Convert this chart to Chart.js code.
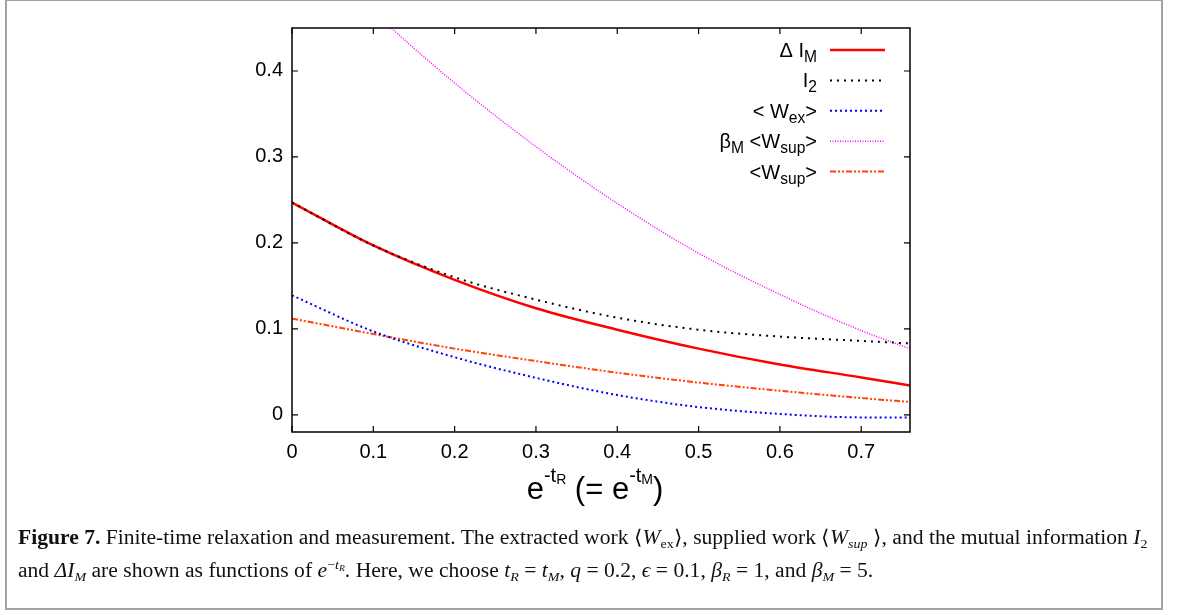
<!DOCTYPE html>
<html>
<head>
<meta charset="utf-8">
<script src="https://cdn.jsdelivr.net/npm/chart.js@4"></script>
<style>
  body { margin: 0; background: #fff; }
  #wrap { position: relative; width: 1179px; height: 615px; overflow: hidden; }
  #grafico { position: absolute; left: 0; top: 0; }
  #marco { position: absolute; left: 5px; top: 0; width: 1158px; height: 610px; box-sizing: border-box; border: 2px solid #a3a3a3; border-top-width: 1px; }
  #leyenda { position: absolute; left: 18px; top: 521px; font-family: "Liberation Serif", serif; font-size: 20px; line-height: 33px; white-space: nowrap; color: #111; transform-origin: 0 0; }
  #leyenda i { font-style: italic; }
  #leyenda sub { font-size: 13px; line-height: 0; vertical-align: -4px; }
  #leyenda sup { font-size: 13px; line-height: 0; vertical-align: 8px; }
</style>
</head>
<body>
<div id="wrap">
  <canvas id="grafico" width="1179" height="615"></canvas>
  <div id="marco"></div>
  <div id="leyenda">
    <div id="linea1"><b>Figure 7.</b> Finite-time relaxation and measurement. The extracted work ⟨<i>W</i><sub>ex</sub>⟩, supplied work ⟨<i>W<sub>sup</sub></i> ⟩, and the mutual information <i>I</i><sub>2</sub></div>
    <div>and <i>ΔI<sub>M</sub></i> are shown as functions of <i>e</i><sup>−<i>t<sub style="font-size:9px;vertical-align:-2px">R</sub></i></sup>. Here, we choose <i>t<sub>R</sub></i> = <i>t<sub>M</sub></i>, <i>q</i> = 0.2, <i>ϵ</i> = 0.1, <i>β<sub>R</sub></i> = 1, and <i>β<sub>M</sub></i> = 5.</div>
  </div>
</div>
<script>
// valores
const xVals = [0, 0.1, 0.2, 0.3, 0.4, 0.5, 0.6, 0.7, 0.76];
const deltaIM = [0.247, 0.197, 0.157, 0.124, 0.099, 0.077, 0.0585, 0.0435, 0.034];
const i2 = [0.247, 0.197, 0.160, 0.134, 0.113, 0.099, 0.091, 0.086, 0.083];
const wex = [0.139, 0.097, 0.067, 0.043, 0.023, 0.009, 0.001, -0.003, -0.003];
const betaWsup = [0.56, 0.469, 0.386, 0.312, 0.246, 0.188, 0.140, 0.098, 0.077];
const wsup = [0.112, 0.094, 0.077, 0.0625, 0.049, 0.0375, 0.028, 0.0195, 0.015];

const xTicks = [0, 0.1, 0.2, 0.3, 0.4, 0.5, 0.6, 0.7];
const yTicks = [0, 0.1, 0.2, 0.3, 0.4];
const nombres = ['Δ I_{M}', 'I_{2}', '< W_{ex}>', 'β_{M} <W_{sup}>', '<W_{sup}>'];

const FUENTE = '"Liberation Sans", Arial, sans-serif';

function puntos(ys) {
    return xVals.map((x, i) => ({ x: x, y: ys[i] }));
}

// texto con subindices tipo gnuplot
function partes(str, size) {
    const out = [];
    let buf = '';
    let i = 0;
    while (i < str.length) {
        const c = str[i];
        if ((c === '_' || c === '^') && str[i + 1] === '{') {
            if (buf) out.push({ t: buf, size: size, dy: 0 });
            buf = '';
            const fin = str.indexOf('}', i);
            out.push({ t: str.slice(i + 2, fin), size: size * 0.78, dy: c === '_' ? 5 : -9 });
            i = fin + 1;
        } else {
            buf += c;
            i++;
        }
    }
    if (buf) out.push({ t: buf, size: size, dy: 0 });
    return out;
}

function dibujarRico(ctx, ps, x, y, align) {
    let total = 0;
    ps.forEach(p => {
        ctx.font = p.size + 'px ' + FUENTE;
        p.w = ctx.measureText(p.t).width;
        total += p.w;
    });
    let cx = x;
    if (align === 'right') cx = x - total;
    if (align === 'center') cx = x - total / 2;
    ctx.textAlign = 'left';
    ctx.textBaseline = 'alphabetic';
    ps.forEach(p => {
        ctx.font = p.size + 'px ' + FUENTE;
        ctx.fillText(p.t, cx, y + p.dy);
        cx += p.w;
    });
}

const marcoPlugin = {
    id: 'marco',
    afterDatasetsDraw(chart) {
        const ctx = chart.ctx;
        const a = chart.chartArea;
        const xs = chart.scales.x, ys = chart.scales.y;
        ctx.save();
        ctx.strokeStyle = '#000';
        ctx.lineWidth = 1.5;
        ctx.strokeRect(a.left, a.top, a.right - a.left, a.bottom - a.top);
        ctx.lineWidth = 1.2;
        ctx.beginPath();
        xTicks.forEach(v => {
            const px = xs.getPixelForValue(v);
            ctx.moveTo(px, a.bottom); ctx.lineTo(px, a.bottom - 6);
            ctx.moveTo(px, a.top); ctx.lineTo(px, a.top + 6);
        });
        yTicks.forEach(v => {
            const py = ys.getPixelForValue(v);
            ctx.moveTo(a.left, py); ctx.lineTo(a.left + 6, py);
            ctx.moveTo(a.right, py); ctx.lineTo(a.right - 6, py);
        });
        ctx.stroke();

        // leyenda
        ctx.fillStyle = '#000';
        chart.data.datasets.forEach((ds, i) => {
            const ly = 50 + i * 30.4;
            dibujarRico(ctx, partes(ds.label, 20), 817, ly + 7, 'right');
            ctx.save();
            ctx.strokeStyle = ds.borderColor;
            ctx.lineWidth = ds.borderWidth;
            ctx.setLineDash(ds.borderDash || []);
            ctx.beginPath();
            ctx.moveTo(830, ly);
            ctx.lineTo(885, ly);
            ctx.stroke();
            ctx.restore();
        });

        // titulo eje x
        const t = [
            { t: 'e', size: 31, dy: 0 },
            { t: '-t', size: 20, dy: -17 },
            { t: 'R', size: 14, dy: -15 },
            { t: ' (= e', size: 31, dy: 0 },
            { t: '-t', size: 20, dy: -17 },
            { t: 'M', size: 14, dy: -15 },
            { t: ')', size: 31, dy: 0 }
        ];
        dibujarRico(ctx, t, 595, 499, 'center');
        ctx.restore();
    }
};

const ctx = document.getElementById('grafico').getContext('2d');
const grafico = new Chart(ctx, {
    type: 'line',
    data: {
        datasets: [
            { label: nombres[0], data: puntos(deltaIM), borderColor: '#ff0000', borderWidth: 2.5, order: 2 },
            { label: nombres[1], data: puntos(i2), borderColor: '#000000', borderWidth: 2, borderDash: [2, 5], order: 1 },
            { label: nombres[2], data: puntos(wex), borderColor: '#0000ff', borderWidth: 2, borderDash: [2, 3], order: 3 },
            { label: nombres[3], data: puntos(betaWsup), borderColor: '#ff00ff', borderWidth: 1.5, borderDash: [1, 1.5], order: 4 },
            { label: nombres[4], data: puntos(wsup), borderColor: '#ff4500', borderWidth: 2, borderDash: [6, 2, 2, 2, 2, 2], order: 5 }
        ]
    },
    options: {
        responsive: false,
        animation: false,
        devicePixelRatio: 1,
        layout: { padding: { left: 0, right: 269, top: 28, bottom: 0 } },
        elements: {
            point: { radius: 0 },
            line: { cubicInterpolationMode: 'monotone', fill: false }
        },
        plugins: {
            legend: { display: false },
            tooltip: { enabled: false }
        },
        scales: {
            x: {
                type: 'linear',
                min: 0,
                max: 0.76,
                grid: { display: false, drawTicks: false },
                border: { display: false },
                afterBuildTicks: s => { s.ticks = xTicks.map(v => ({ value: v })); },
                afterFit: s => { s.height = 615 - 432; },
                ticks: {
                    autoSkip: false,
                    maxRotation: 0,
                    padding: 8,
                    color: '#000',
                    font: { family: FUENTE, size: 20 },
                    callback: v => String(Number(v.toFixed(2)))
                }
            },
            y: {
                type: 'linear',
                min: -0.02,
                max: 0.45,
                grid: { display: false, drawTicks: false },
                border: { display: false },
                afterBuildTicks: s => { s.ticks = yTicks.map(v => ({ value: v })); },
                afterFit: s => { s.width = 292; },
                ticks: {
                    padding: 9,
                    color: '#000',
                    font: { family: FUENTE, size: 20 },
                    callback: v => String(Number(v.toFixed(2)))
                }
            }
        }
    },
    plugins: [marcoPlugin]
});

// ajustar ancho del pie de figura
const linea1 = document.getElementById('linea1');
const ancho = linea1.getBoundingClientRect().width;
const escala = 1130 / ancho;
document.getElementById('leyenda').style.transform = 'scaleX(' + escala.toFixed(3) + ')';
</script>
</body>
</html>
